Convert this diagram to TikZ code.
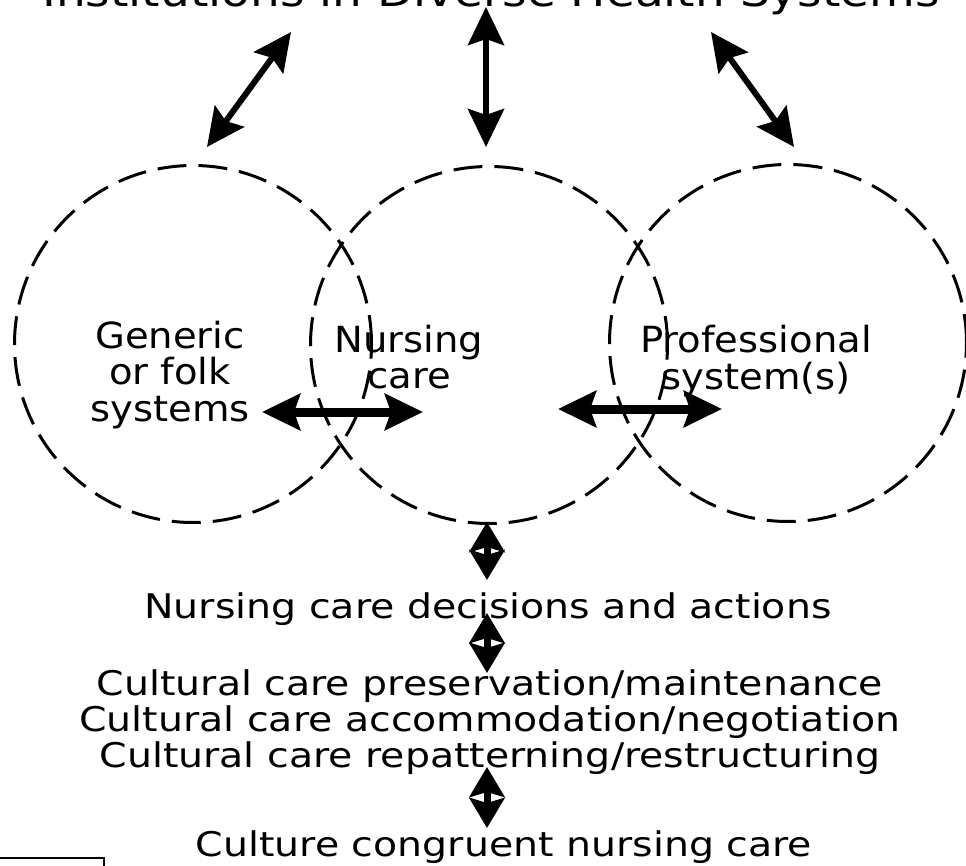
\documentclass[tikz,border=0pt]{standalone}
\usepackage{fontspec}
\usetikzlibrary{arrows.meta}
\newfontfamily\circfont[FakeStretch=1.07]{DejaVu Sans}
\newfontfamily\flowfont[FakeStretch=1.16]{DejaVu Sans}

\begin{document}
\begin{tikzpicture}[x=1pt,y=-1pt,
  sys/.style={circle,draw,line width=3pt,dash pattern=on 29pt off 12pt,minimum size=357pt,inner sep=0pt},
  syslabel/.style={align=center,inner sep=0pt,font=\circfont\fontsize{36pt}{36.5pt}\selectfont},
  flow/.style={align=center,inner sep=0pt,font=\flowfont\fontsize{34pt}{36pt}\selectfont},
  link/.style={line width=6pt,{Stealth[length=38pt,width=36pt,inset=6pt]}-{Stealth[length=38pt,width=36pt,inset=6pt]}},
  hlink/.style={link,line width=9pt},
  vlink/.style={line width=7pt,{Stealth[length=30pt,width=35pt,inset=5pt]}-{Stealth[length=30pt,width=35pt,inset=5pt]}}]
\useasboundingbox (0,0) rectangle (966,866);

% title and the three systems
\node[flow,anchor=base,font=\flowfont\fontsize{40.5pt}{42pt}\selectfont] (inst) at (491,7) {Institutions in Diverse Health Systems};
\node[sys] (folk) at (193,344) {};
\node[sys] (nurse) at (489,345) {};
\node[sys] (prof) at (788,343) {};
\node[syslabel] (folklbl) at (170,375) {Generic\\or folk\\systems};
\node[syslabel] (nurselbl) at (409,357) {Nursing\\care};
\node[syslabel] (proflbl) at (756,361) {Professional\\system(s)};

% arrow ends
\coordinate (instL) at (291,32);
\coordinate (instM) at (486,7);
\coordinate (instR) at (711,32);
\coordinate (folkT) at (207,147);
\coordinate (nurseT) at (486,147);
\coordinate (profT) at (794,147);
\coordinate (folkR) at (262,412);
\coordinate (nurseL) at (423,412);
\coordinate (nurseR) at (558,409);
\coordinate (profL) at (722,409);
\coordinate (nurseB) at (487,522);
\coordinate (decT) at (487,580);
\coordinate (decB) at (487,613);
\coordinate (cultT) at (487,673);
\coordinate (cultB) at (487,767);
\coordinate (congT) at (487,828);

\draw[link] (folkT) -- (instL);
\draw[link] (nurseT) -- (instM);
\draw[link] (profT) -- (instR);
\draw[hlink] (folkR) -- (nurseL);
\draw[hlink] (nurseR) -- (profL);

% decisions and actions
\node[flow] (dec) at (488,609) {Nursing care decisions and actions};
\node[flow] (cult) at (490,722) {Cultural care preservation/maintenance\\Cultural care accommodation/negotiation\\Cultural care repatterning/restructuring};
\node[flow] (cong) at (504,847) {Culture congruent nursing care};
\draw[vlink] (nurseB) -- (decT);
\draw[vlink] (decB) -- (cultT);
\draw[vlink] (cultB) -- (congT);

\draw[line width=1.5pt] (0,858) -| (104,870);
\end{tikzpicture}
\end{document}
